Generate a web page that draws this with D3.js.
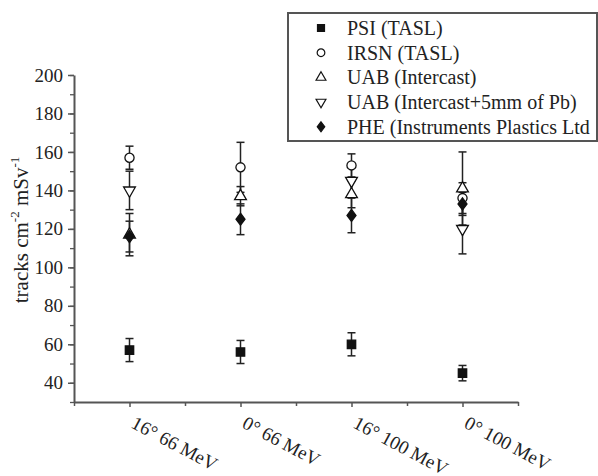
<!DOCTYPE html>
<html>
<meta charset="utf-8">
<title>tracks per dose</title>
<style>
  body { margin: 0; background: #fff; }
  text { font-family: "Liberation Serif", "DejaVu Serif", serif; fill: #222; }
  .axis path, .axis line { stroke: #555; }
</style>
<body>
<div id="chart"></div>
<script src="https://d3js.org/d3.v7.min.js"></script>
<script>
// data
var categories = ["16\u00b0 66 MeV", "0\u00b0 66 MeV", "16\u00b0 100 MeV", "0\u00b0 100 MeV"];
var seriesNames = ["PSI (TASL)", "IRSN (TASL)", "UAB (Intercast)", "UAB (Intercast+5mm of Pb)", "PHE (Instruments Plastics Ltd"];
var psi = [57, 56, 60, 45];
var psiErr = [6, 6, 6, 4];
var irsn = [157, 152, 153, 136];
var irsnErr = [6, 13, 6, 8];
var uab = [117, 137, 138, 141];
var uabErr = [11, 5, 7, 19];
var uabPb = [140, null, 145, 120];
var uabPbErr = [10, null, 8, 13];
var phe = [116, 125, 127, 133];
var pheErr = [8, 8, 9, 6];
var yTicks = [40, 60, 80, 100, 120, 140, 160, 180, 200];

var width = 598, height = 476;
var margin = {left: 74, right: 80, top: 75, bottom: 74};

var svg = d3.select("#chart").append("svg")
    .attr("width", width)
    .attr("height", height);

var x = d3.scaleLinear()
    .domain([-0.5, categories.length - 0.5])
    .range([margin.left, width - margin.right]);

var y = d3.scaleLinear()
    .domain([30, 200])
    .range([height - margin.bottom, margin.top]);

// diamond a bit squatter than d3's own
var diamond = {
  draw: function(ctx, size) {
    var h = Math.sqrt(size / 1.5), w = h * 0.75;
    ctx.moveTo(0, -h); ctx.lineTo(w, 0); ctx.lineTo(0, h); ctx.lineTo(-w, 0); ctx.closePath();
  }
};

// series table built from the arrays
var series = [
  {name: seriesNames[0], vals: psi, errs: psiErr, shape: d3.symbolSquare, size: 70, fill: "#111", rot: 0},
  {name: seriesNames[1], vals: irsn, errs: irsnErr, shape: d3.symbolCircle, size: 66, fill: "#fff", rot: 0},
  {name: seriesNames[2], vals: uab, errs: uabErr, shape: d3.symbolTriangle, size: 60, fill: "#fff", rot: 0},
  {name: seriesNames[3], vals: uabPb, errs: uabPbErr, shape: d3.symbolTriangle, size: 60, fill: "#fff", rot: 180},
  {name: seriesNames[4], vals: phe, errs: pheErr, shape: diamond, size: 54, fill: "#111", rot: 0}
];

// y axis, minor ticks first
svg.append("g")
    .attr("class", "axis")
    .attr("transform", "translate(" + margin.left + ",0)")
    .call(d3.axisLeft(y).tickValues(d3.range(30, 201, 10)).tickSize(4).tickFormat(""))
    .call(function(g) { g.select(".domain").remove(); g.selectAll("line").attr("stroke-width", 1.3); });

var yAxis = svg.append("g")
    .attr("class", "axis")
    .attr("transform", "translate(" + margin.left + ",0)")
    .call(d3.axisLeft(y).tickValues(yTicks).tickSize(6).tickSizeOuter(0).tickPadding(5));
yAxis.select(".domain").attr("stroke-width", 2);
yAxis.selectAll("line").attr("stroke-width", 1.5);
yAxis.selectAll("text").style("font-size", "19px");

// x axis
svg.append("g")
    .attr("class", "axis")
    .attr("transform", "translate(0," + (height - margin.bottom) + ")")
    .call(d3.axisBottom(x).tickValues([-0.5, 0.5, 1.5, 2.5, 3.5]).tickSize(4).tickFormat(""))
    .call(function(g) { g.select(".domain").remove(); g.selectAll("line").attr("stroke-width", 1.5); });

var xAxis = svg.append("g")
    .attr("class", "axis")
    .attr("transform", "translate(0," + (height - margin.bottom) + ")")
    .call(d3.axisBottom(x).tickValues(d3.range(categories.length)).tickSize(5).tickSizeOuter(0)
      .tickFormat(function(i) { return categories[i]; }));
xAxis.select(".domain").attr("stroke-width", 2);
xAxis.selectAll("line").attr("stroke-width", 1.5);
xAxis.selectAll("text")
    .style("font-size", "19px")
    .attr("text-anchor", "start")
    .attr("y", 0).attr("dy", 0)
    .attr("transform", "translate(0,25) rotate(28)");

// y title
var title = svg.append("text")
    .attr("transform", "translate(28," + 230 + ") rotate(-90)")
    .attr("text-anchor", "middle")
    .style("font-size", "21px");
title.append("tspan").text("tracks cm");
title.append("tspan").attr("dy", -9).style("font-size", "13px").text("-2");
title.append("tspan").attr("dy", 9).text(" mSv");
title.append("tspan").attr("dy", -9).style("font-size", "13px").text("-1");

// error bars
var plot = svg.append("g");
series.forEach(function(s) {
  var pts = s.vals.map(function(v, i) { return {i: i, v: v, e: s.errs[i]}; })
      .filter(function(d) { return d.v != null; });
  var g = plot.append("g").attr("stroke", "#222").attr("stroke-width", 1.5);
  g.selectAll(".bar").data(pts).enter().append("line")
      .attr("x1", function(d) { return x(d.i); }).attr("x2", function(d) { return x(d.i); })
      .attr("y1", function(d) { return y(d.v - d.e); }).attr("y2", function(d) { return y(d.v + d.e); });
  [-1, 1].forEach(function(sg) {
    g.selectAll(".cap" + sg).data(pts).enter().append("line")
        .attr("x1", function(d) { return x(d.i) - 4; }).attr("x2", function(d) { return x(d.i) + 4; })
        .attr("y1", function(d) { return y(d.v + sg * d.e); }).attr("y2", function(d) { return y(d.v + sg * d.e); });
  });
});

// markers
series.forEach(function(s) {
  var pts = s.vals.map(function(v, i) { return {i: i, v: v}; })
      .filter(function(d) { return d.v != null; });
  plot.append("g").selectAll("path").data(pts).enter().append("path")
      .attr("d", d3.symbol().type(s.shape).size(s.size))
      .attr("transform", function(d) { return "translate(" + x(d.i) + "," + y(d.v) + ") rotate(" + s.rot + ")"; })
      .attr("fill", s.fill)
      .attr("stroke", "#111")
      .attr("stroke-width", 1.3);
});

// legend
var legend = svg.append("g");
legend.append("rect")
    .attr("x", 288).attr("y", 13)
    .attr("width", 309).attr("height", 128)
    .attr("fill", "#fff")
    .attr("stroke", "#555")
    .attr("stroke-width", 2);
var rows = legend.selectAll(".row").data(series).enter().append("g")
    .attr("transform", function(d, i) { return "translate(0," + (28 + i * 24.7) + ")"; });
rows.append("path")
    .attr("d", function(d) { return d3.symbol().type(d.shape).size(d.size * 0.7)(); })
    .attr("transform", function(d) { return "translate(321,0) rotate(" + d.rot + ")"; })
    .attr("fill", function(d) { return d.fill; })
    .attr("stroke", "#111")
    .attr("stroke-width", 1.2);
rows.append("text")
    .attr("x", 347).attr("dy", "0.35em")
    .style("font-size", "20px")
    .text(function(d) { return d.name; });
</script>
</body>
</html>
